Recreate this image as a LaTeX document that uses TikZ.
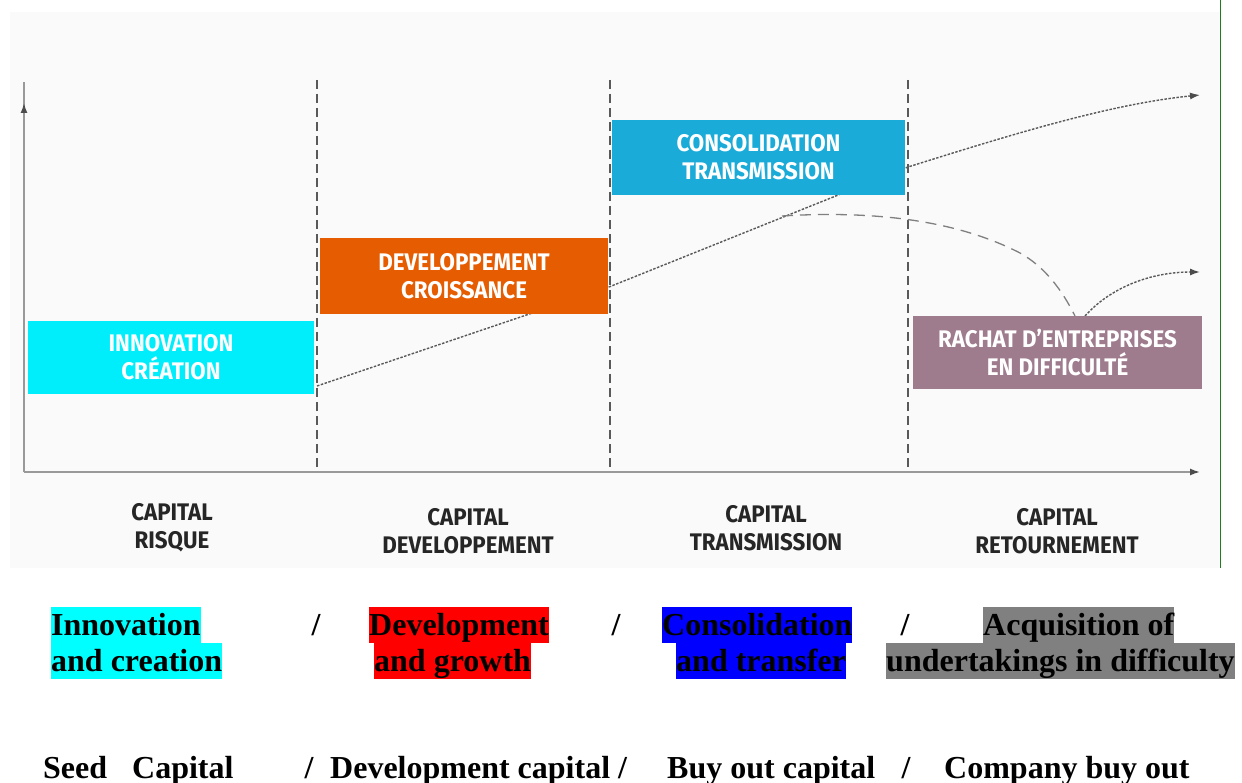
\documentclass[tikz,border=0pt]{standalone}
\usepackage{fontspec}
\setmainfont{Liberation Serif}
\newfontfamily\dinfont[FakeStretch=0.93]{Fira Sans}
\usepackage{xcolor}
\usetikzlibrary{positioning}
\usetikzlibrary{arrows.meta}

\definecolor{panelgray}{HTML}{FAFAFA}
\definecolor{innocyan}{HTML}{00EEFC}
\definecolor{devorange}{HTML}{E65C00}
\definecolor{consblue}{HTML}{1BABD9}
\definecolor{rachatmauve}{HTML}{9E7B8D}
\definecolor{framegreen}{HTML}{1E7B1E}
\definecolor{hlcyan}{RGB}{0,255,255}
\definecolor{hlred}{RGB}{255,0,0}
\definecolor{hlblue}{RGB}{0,0,255}
\definecolor{hlgray}{RGB}{128,128,128}

\begin{document}
\begin{tikzpicture}[x=1pt,y=-1pt,>={Latex[length=10pt,width=7pt,color=black!70]},
   phasebox/.style={rectangle,inner sep=0pt,text=white,align=center,
      font=\dinfont\bfseries\fontsize{24}{28}\selectfont},
   caplabel/.style={align=center,text=black!85,
      font=\dinfont\bfseries\fontsize{24}{28}\selectfont},
   axis/.style={draw=black!40,line width=1.5pt},
   divider/.style={draw=black!65,line width=1.3pt,dash pattern=on 9pt off 5pt},
   growth/.style={draw=black!65,line width=1.4pt,dash pattern=on 2.5pt off 1.5pt},
   decline/.style={draw=black!50,line width=1.3pt,dash pattern=on 11pt off 7pt},
   hl/.style={inner sep=0pt,text height=28pt,text depth=8pt,
      font=\bfseries\fontsize{32}{36}\selectfont},
   plain/.style={inner sep=0pt,font=\bfseries\fontsize{32}{36}\selectfont}]
   \useasboundingbox (0,0) rectangle (1242,783);
   \fill[panelgray] (10,12) rectangle (1220,568);
   \draw[framegreen,line width=1pt] (1220,0) -- (1220,568);

   \coordinate (o) at (24,472);
   \coordinate (ytop) at (24,82);
   \coordinate (ytip) at (24,103);
   \coordinate (xtip) at (1200,472);
   \draw[axis] (o) -- (ytop);
   \draw[axis,->] (o) -- (ytip);
   \draw[axis,->] (o) -- (xtip);

   \foreach \x in {317,610,908}
      \draw[divider] (\x,80) -- (\x,468);

   \coordinate (g0) at (317,386);
   \coordinate (g1) at (609,287);
   \coordinate (g2) at (908,167);
   \coordinate (g3) at (1200,95);
   \coordinate (d0) at (782,216);
   \coordinate (d1) at (1020,253);
   \coordinate (d2) at (1075,316);
   \coordinate (r0) at (1085,316);
   \coordinate (r1) at (1200,272);
   \draw[growth,->] (g0) -- (g1) -- (g2) .. controls (1010,135) and (1110,104) .. (g3);
   \draw[decline] (d0) .. controls (880,210) and (960,222) .. (d1)
      .. controls (1045,267) and (1062,290) .. (d2);
   \draw[growth,->] (r0) .. controls (1110,288) and (1150,272) .. (r1);

   \node[phasebox,fill=innocyan,minimum width=286pt,minimum height=73pt]
      (inno) at (171,357.5) {INNOVATION\\CRÉATION};
   \node[phasebox,fill=devorange,minimum width=288pt,minimum height=76pt]
      (dev) at (464,276) {DEVELOPPEMENT\\CROISSANCE};
   \node[phasebox,fill=consblue,minimum width=293pt,minimum height=75pt]
      (cons) at (758.5,157.5) {CONSOLIDATION\\TRANSMISSION};
   \node[phasebox,fill=rachatmauve,minimum width=289pt,minimum height=73pt]
      (rachat) at (1057.5,352.5) {RACHAT D’ENTREPRISES\\EN DIFFICULTÉ};

   \node[caplabel] (risque) at (172,528) {CAPITAL\\RISQUE};
   \node[caplabel] (devcap) at (468,531) {CAPITAL\\DEVELOPPEMENT};
   \node[caplabel] (transcap) at (766,528) {CAPITAL\\TRANSMISSION};
   \node[caplabel] (retour) at (1057,531) {CAPITAL\\RETOURNEMENT};

   \node[hl,fill=hlcyan,anchor=base west] (inn1) at (51,635) {Innovation};
   \node[hl,fill=hlcyan,below right=0pt and 0pt of inn1.south west] (inn2) {and creation};
   \node[hl,fill=hlred,anchor=base west] (dev1) at (369,635) {Development};
   \node[hl,fill=hlred,below right=0pt and 5pt of dev1.south west] (dev2) {and growth};
   \node[hl,fill=hlblue,anchor=base west] (con1) at (662,635) {Consolidation};
   \node[hl,fill=hlblue,below right=0pt and 14pt of con1.south west] (con2) {and transfer};
   \node[hl,fill=hlgray,anchor=base west] (acq1) at (983,635) {Acquisition of};
   \node[hl,fill=hlgray,below right=0pt and -97pt of acq1.south west] (acq2) {undertakings in difficulty};
   \node[plain,anchor=base] (sl1) at (316,635) {/};
   \node[plain,anchor=base] (sl2) at (616,635) {/};
   \node[plain,anchor=base] (sl3) at (905,635) {/};

   \node[plain,anchor=base west] (seed) at (43,778) {Seed};
   \node[plain,anchor=base west] (seedcap) at (132,778) {Capital};
   \node[plain,anchor=base] (sl4) at (309,778) {/};
   \node[plain,anchor=base west] (devcapen) at (330,778) {Development capital /};
   \node[plain,anchor=base west] (buyout) at (667,778) {Buy out capital};
   \node[plain,anchor=base] (sl5) at (906,778) {/};
   \node[plain,anchor=base west] (company) at (944,778) {Company buy out};
\end{tikzpicture}
\end{document}
